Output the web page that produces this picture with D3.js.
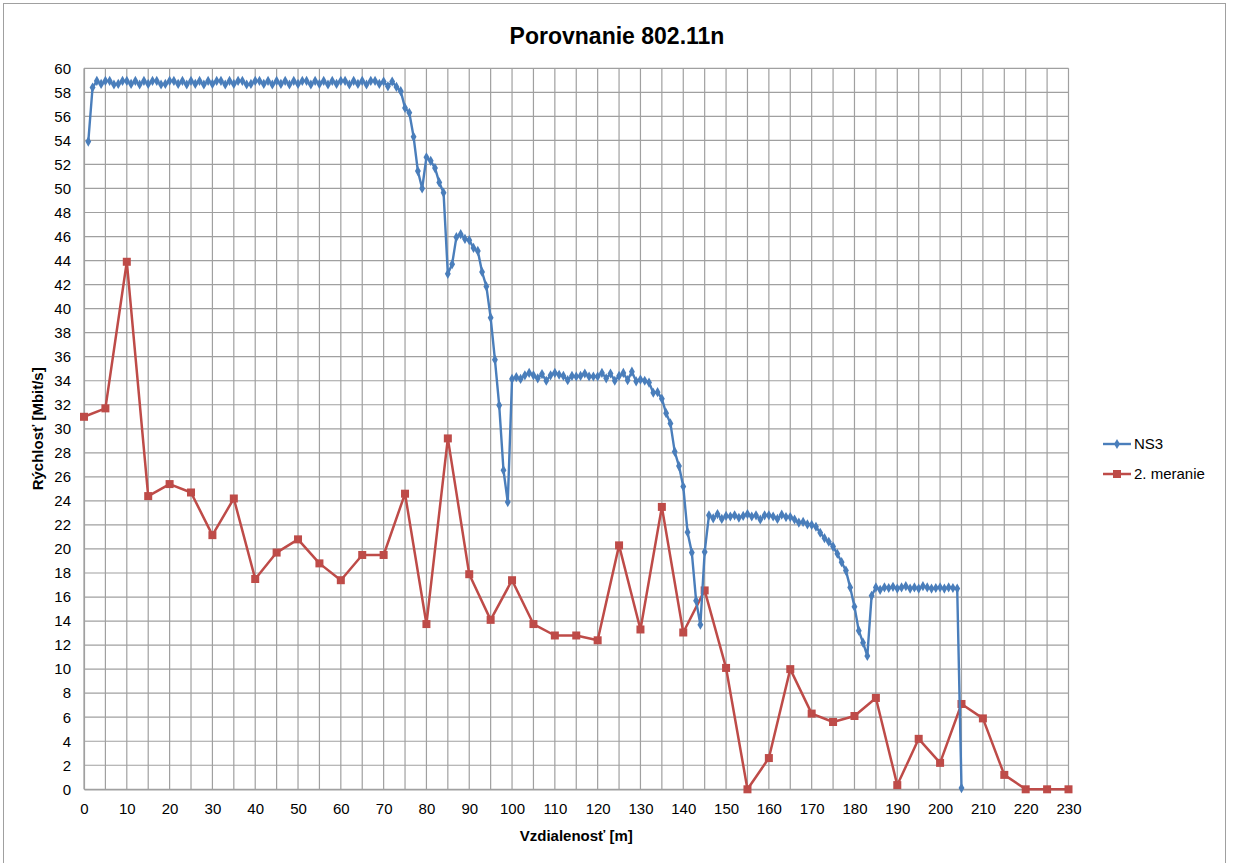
<!DOCTYPE html>
<html><head><meta charset="utf-8">
<script src="https://cdn.jsdelivr.net/npm/d3@7"></script>
<style>
html,body{margin:0;padding:0;background:#fff;}
svg{display:block;}
</style>
</head><body>
<script>
// ---- data ----
const ns3Start = 1; // NS3 samples are at 1 m, 2 m, ... 205 m
const ns3Values = [
 53.9, 58.4, 58.95, 58.7, 58.95, 58.95, 58.65, 58.7, 58.95, 58.95,
 58.7, 58.95, 58.65, 58.95, 58.7, 58.95, 58.95, 58.65, 58.7, 58.95,
 58.95, 58.7, 58.95, 58.65, 58.95, 58.7, 58.95, 58.65, 58.95, 58.7,
 58.95, 58.95, 58.65, 58.95, 58.7, 58.95, 58.95, 58.65, 58.7, 58.95,
 58.95, 58.7, 58.95, 58.65, 58.95, 58.7, 58.95, 58.65, 58.95, 58.7,
 58.95, 58.95, 58.65, 58.95, 58.7, 58.95, 58.65, 58.95, 58.7, 58.95,
 58.95, 58.65, 58.95, 58.7, 58.95, 58.65, 58.95, 58.95, 58.7, 58.9,
 58.5, 58.9, 58.45, 58.1, 56.7, 56.3, 54.3, 51.45, 50.0, 52.6,
 52.3, 51.7, 50.5, 49.65, 42.9, 43.7, 45.95, 46.2, 45.8, 45.7,
 45.05, 44.8, 43.05, 41.85, 39.25, 35.75, 31.95, 26.55, 23.9, 34.15,
 34.3, 34.15, 34.45, 34.65, 34.45, 34.2, 34.55, 34.0, 34.45, 34.65,
 34.5, 34.4, 34.05, 34.4, 34.35, 34.4, 34.6, 34.35, 34.35, 34.35,
 34.65, 34.2, 34.6, 34.0, 34.4, 34.65, 34.05, 34.75, 33.95, 34.1,
 34.0, 33.85, 33.0, 33.05, 32.5, 31.3, 30.45, 28.1, 26.9, 25.2,
 21.4, 19.7, 15.7, 13.7, 19.75, 22.8, 22.55, 22.9, 22.5, 22.75,
 22.7, 22.8, 22.6, 22.75, 22.9, 22.7, 22.8, 22.45, 22.8, 22.8,
 22.7, 22.5, 22.85, 22.65, 22.65, 22.45, 22.2, 22.25, 22.05, 22.0,
 21.85, 21.35, 20.9, 20.6, 20.2, 19.6, 18.9, 18.2, 16.8, 15.2,
 13.2, 12.2, 11.1, 16.1, 16.8, 16.6, 16.8, 16.75, 16.85, 16.7,
 16.8, 16.9, 16.7, 16.8, 16.7, 16.9, 16.8, 16.7, 16.75, 16.8,
 16.7, 16.8, 16.75, 16.7, 0.1
];
const meranieDist = [0,5,10,15,20,25,30,35,40,45,50,55,60,65,70,75,80,85,90,95,100,105,110,115,120,125,130,135,140,145,150,155,160,165,170,175,180,185,190,195,200,205,210,215,220,225,230];
const meranieValues = [31.0,31.7,43.9,24.4,25.4,24.7,21.15,24.2,17.5,19.7,20.8,18.8,17.4,19.5,19.5,24.6,13.75,29.2,17.9,14.1,17.4,13.75,12.8,12.8,12.4,20.3,13.3,23.5,13.05,16.55,10.1,0.0,2.6,10.0,6.3,5.6,6.1,7.6,0.35,4.2,2.2,7.1,5.9,1.2,0,0,0];
const xTicks = d3.range(0, 231, 10);
const yTicks = d3.range(0, 61, 2);
const seriesNames = ["NS3", "2. meranie"];
const title = "Porovnanie 802.11n";
const xTitle = "Vzdialenosť [m]";
const yTitle = "Rýchlosť [Mbit/s]";

// ---- layout ----
const W = 1234, H = 863;
const L = 84, R = 1068.5, T = 68.3, B = 789.3;
const blue = "#4a7ebb", red = "#be4b48", grid = "#a0a0a0";
const font = "'Liberation Sans', Arial, sans-serif";

const svg = d3.select("body").append("svg").attr("width", W).attr("height", H);
svg.append("rect").attr("x", 3.5).attr("y", 3.5).attr("width", 1222).attr("height", 870)
  .attr("fill", "#fff").attr("stroke", "#a0a0a0").attr("stroke-width", 1);

const x = d3.scaleLinear().domain([0, 230]).range([L, R]);
const y = d3.scaleLinear().domain([0, 60]).range([B, T]);

// grid
const gx = svg.append("g");
gx.selectAll("line.v").data(d3.range(0, 231, 5)).join("line")
  .attr("x1", d => x(d)).attr("x2", d => x(d)).attr("y1", T).attr("y2", B)
  .attr("stroke", grid).attr("stroke-width", 1.2);
gx.selectAll("line.h").data(yTicks).join("line")
  .attr("x1", L).attr("x2", R).attr("y1", d => y(d)).attr("y2", d => y(d))
  .attr("stroke", grid).attr("stroke-width", 1.2);

// axes
const xAxis = svg.append("g").attr("transform", `translate(0,${B})`)
  .call(d3.axisBottom(x).tickValues(xTicks).tickSize(0).tickPadding(14));
const yAxis = svg.append("g").attr("transform", `translate(${L},0)`)
  .call(d3.axisLeft(y).tickValues(yTicks).tickSize(0).tickPadding(13));
[xAxis, yAxis].forEach(a => {
  a.select(".domain").attr("stroke", grid).attr("stroke-width", 1.2);
  a.selectAll("text").attr("font-family", font).attr("font-size", 15).attr("fill", "#000");
});

// series
const ns3 = ns3Values.map((v, i) => ({x: ns3Start + i, y: v}));
const mer = meranieDist.map((d, i) => ({x: d, y: meranieValues[i]}));
const line = d3.line().x(d => x(d.x)).y(d => y(d.y));

svg.append("path").datum(mer).attr("d", line).attr("fill", "none")
  .attr("stroke", red).attr("stroke-width", 2.5).attr("stroke-linejoin", "round");
svg.append("g").selectAll("rect").data(mer).join("rect")
  .attr("x", d => x(d.x) - 4).attr("y", d => y(d.y) - 4).attr("width", 8).attr("height", 8)
  .attr("fill", red);

svg.append("path").datum(ns3).attr("d", line).attr("fill", "none")
  .attr("stroke", blue).attr("stroke-width", 2.4).attr("stroke-linejoin", "round");
const diamond = d3.symbol().type(d3.symbolDiamond).size(30);
svg.append("g").selectAll("path").data(ns3).join("path")
  .attr("d", diamond).attr("transform", d => `translate(${x(d.x)},${y(d.y)})`)
  .attr("fill", blue);

// titles
svg.append("text").attr("x", 617).attr("y", 44).attr("text-anchor", "middle")
  .attr("font-family", font).attr("font-weight", "bold").attr("font-size", 23).text(title);
svg.append("text").attr("x", x(115)).attr("y", 841).attr("text-anchor", "middle")
  .attr("font-family", font).attr("font-weight", "bold").attr("font-size", 15).text(xTitle);
svg.append("text").attr("transform", `translate(43,${(T + B) / 2}) rotate(-90)`)
  .attr("text-anchor", "middle")
  .attr("font-family", font).attr("font-weight", "bold").attr("font-size", 15).text(yTitle);

// legend
const leg = svg.append("g");
const legY = [444, 474];
leg.append("line").attr("x1", 1103).attr("x2", 1131).attr("y1", legY[0]).attr("y2", legY[0])
  .attr("stroke", blue).attr("stroke-width", 2.4);
leg.append("path").attr("d", diamond).attr("transform", `translate(1117,${legY[0]})`).attr("fill", blue);
leg.append("line").attr("x1", 1103).attr("x2", 1131).attr("y1", legY[1]).attr("y2", legY[1])
  .attr("stroke", red).attr("stroke-width", 2.5);
leg.append("rect").attr("x", 1113).attr("y", legY[1] - 4).attr("width", 8).attr("height", 8).attr("fill", red);
seriesNames.forEach((n, i) => {
  leg.append("text").attr("x", 1134).attr("y", legY[i] + 5)
    .attr("font-family", font).attr("font-size", 15).attr("fill", "#000").text(n);
});
</script>
</body></html>
